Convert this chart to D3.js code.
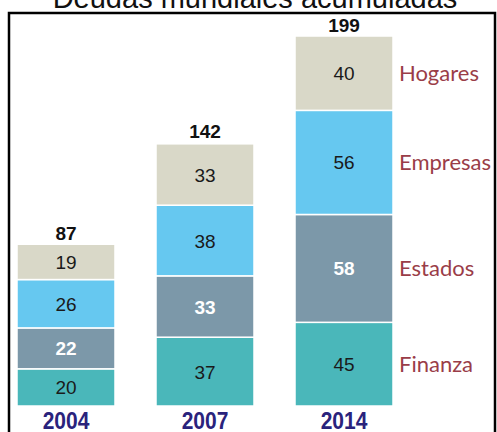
<!DOCTYPE html>
<html>
<head>
<meta charset="utf-8">
<script src="https://cdn.jsdelivr.net/npm/d3@7"></script>
<style>
  body { margin: 0; background: #fff; }
  svg { display: block; }
</style>
</head>
<body>
<div class="chartView"></div>
<script>
// data
var years = ['2004', '2007', '2014'];
var sectors = ['Finanza', 'Estados', 'Empresas', 'Hogares'];
var finanza = [20, 37, 45];
var estados = [22, 33, 58];
var empresas = [26, 38, 56];
var hogares = [19, 33, 40];
var totals = [87, 142, 199];

var colors = ['#4ab7ba', '#7c98a9', '#66c8f0', '#d9d8c8'];
var labelColors = ['#1a1a1a', '#ffffff', '#1a1a1a', '#1a1a1a'];

var width = 497, height = 432;

var svg = d3.select('.chartView').append('svg')
  .attr('width', width)
  .attr('height', height);

// title, cut off at top like the source
svg.append('text')
  .attr('x', 255)
  .attr('y', 8)
  .attr('text-anchor', 'middle')
  .attr('font-family', 'Liberation Sans, Arial, sans-serif')
  .attr('font-size', 29)
  .attr('fill', '#111')
  .text('Deudas mundiales acumuladas');

// frame
svg.append('rect')
  .attr('x', 9).attr('y', 13)
  .attr('width', 486).attr('height', 430)
  .attr('fill', 'none')
  .attr('stroke', '#000')
  .attr('stroke-width', 2.5);

var x = d3.scaleBand()
  .domain(years)
  .range([17, 393])
  .paddingInner(0.295)
  .paddingOuter(0);

var y = d3.scaleLinear()
  .domain([0, 199])
  .range([406, 36]);

// build rows for the stack from the arrays
var rows = years.map(function(yr, i) {
  return { year: yr, Finanza: finanza[i], Estados: estados[i], Empresas: empresas[i], Hogares: hogares[i] };
});
var series = d3.stack().keys(sectors)(rows);

var groups = svg.selectAll('g.layer')
  .data(series)
  .enter().append('g')
  .attr('class', 'layer');

groups.each(function(s, si) {
  var g = d3.select(this);
  g.selectAll('rect')
    .data(s)
    .enter().append('rect')
    .attr('x', function(d) { return x(d.data.year); })
    .attr('y', function(d) { return y(d[1]); })
    .attr('width', x.bandwidth())
    .attr('height', function(d) { return y(d[0]) - y(d[1]); })
    .attr('fill', colors[si])
    .attr('stroke', '#fff')
    .attr('stroke-width', 1.5);

  // values inside segments
  g.selectAll('text')
    .data(s)
    .enter().append('text')
    .attr('x', function(d) { return x(d.data.year) + x.bandwidth() / 2; })
    .attr('y', function(d) { return (y(d[0]) + y(d[1])) / 2 + 7; })
    .attr('text-anchor', 'middle')
    .attr('font-family', 'Liberation Sans, Arial, sans-serif')
    .attr('font-size', 19)
    .attr('font-weight', si === 1 ? 'bold' : 'normal')
    .attr('fill', labelColors[si])
    .text(function(d) { return d[1] - d[0]; });
});

// totals
svg.selectAll('text.total')
  .data(totals)
  .enter().append('text')
  .attr('class', 'total')
  .attr('x', function(d, i) { return x(years[i]) + x.bandwidth() / 2; })
  .attr('y', function(d) { return y(d) - 4; })
  .attr('text-anchor', 'middle')
  .attr('font-family', 'Liberation Sans, Arial, sans-serif')
  .attr('font-size', 19)
  .attr('font-weight', 'bold')
  .attr('fill', '#111')
  .text(function(d) { return d; });

// year labels (slightly tall letters in the source)
svg.selectAll('text.year')
  .data(years)
  .enter().append('text')
  .attr('class', 'year')
  .attr('transform', function(d) { return 'translate(' + (x(d) + x.bandwidth() / 2) + ',429) scale(1,1.15)'; })
  .attr('text-anchor', 'middle')
  .attr('font-family', 'Liberation Sans, Arial, sans-serif')
  .attr('font-size', 21)
  .attr('font-weight', 'bold')
  .attr('fill', '#2a237c')
  .text(function(d) { return d; });

// sector names next to the last bar
var last = years.length - 1;
svg.selectAll('text.sector')
  .data(series)
  .enter().append('text')
  .attr('class', 'sector')
  .attr('x', 399)
  .attr('y', function(s) { return (y(s[last][0]) + y(s[last][1])) / 2 + 8; })
  .attr('font-family', 'Lato, Open Sans, sans-serif')
  .attr('font-size', 22)
  .attr('fill', '#9a3d48')
  .text(function(s) { return s.key; });
</script>
</body>
</html>
